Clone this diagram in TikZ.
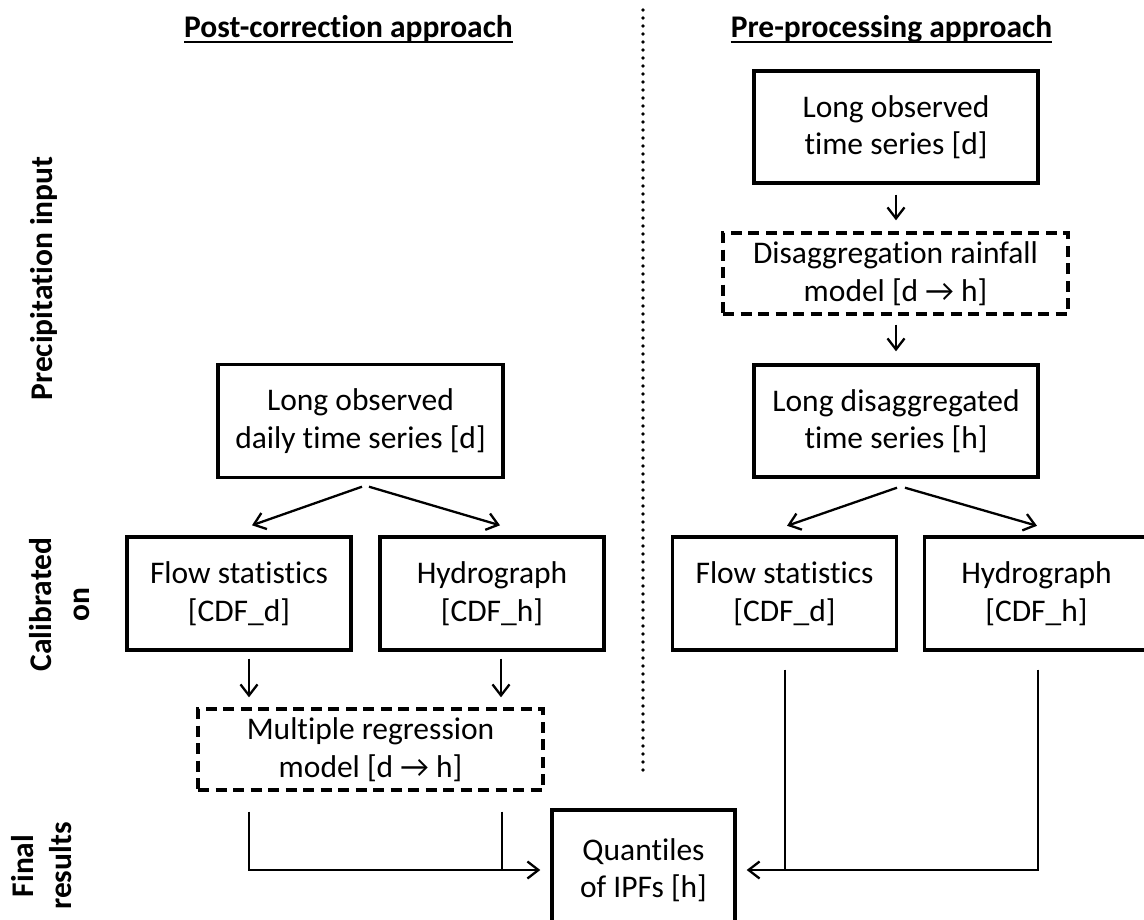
\documentclass[tikz,border=0pt]{standalone}
\usepackage{fontspec}
\setmainfont{Carlito}[Ligatures=NoCommon]
\usetikzlibrary{arrows.meta,calc}

\newcommand\boxfont{\fontsize{31.5}{37.5}\selectfont}
\newcommand\labfont{\fontsize{31.5}{38}\selectfont\bfseries}

\begin{document}
\begin{tikzpicture}[x=1pt,y=-1pt,
  box/.style={draw, line width=3.4pt, align=center, font=\boxfont, inner sep=0pt,
              minimum width=224pt, minimum height=113pt},
  dbox/.style={box, dash pattern=on 11pt off 6.5pt, minimum width=345pt, minimum height=81pt},
  conn/.style={line width=2.3pt},
  arr/.style={conn, -{Straight Barb[length=11pt,width=17pt]}},
  title/.style={font=\labfont, inner sep=0pt, anchor=base},
  lab/.style={font=\labfont, align=center, inner sep=0pt, rotate=90},
  sep/.style={line width=3.8pt, line cap=round, dash pattern=on 0pt off 8pt}
]
\useasboundingbox (0,0) rectangle (1144,919);

% column headings
\node[title] (t1) at (348.5,37) {Post-correction approach};
\node[title] (t2) at (891.5,37) {Pre-processing approach};
\draw[line width=2.6pt] ($(t1.base west)+(0,5)$) -- ($(t1.base east)+(0,5)$);
\draw[line width=2.6pt] ($(t2.base west)+(0,5)$) -- ($(t2.base east)+(0,5)$);

% dotted separator between the two approaches
\draw[sep] (643,10) -- (643,773);

% row labels
\node[lab] (rowA) at (44,278.5) {Precipitation input};
\node[lab] (rowB) at (60,604.5) {Calibrated\\on};
\node[lab] (rowC) at (41.5,866) {Final\\results};

% post-correction approach
\node[box, minimum width=285pt] (tL) at (360.5,421) {Long observed\\daily time series [d]};
\node[box] (fsL) at (239,593.5) {Flow statistics\\{[CDF\_d]}};
\node[box] (hyL) at (492,593.5) {Hydrograph\\{[CDF\_h]}};
\node[dbox] (mrm) at (370.5,749.5) {Multiple regression\\model [d → h]};

% pre-processing approach
\node[box, minimum width=284pt, minimum height=112pt] (tR) at (896,127) {Long observed\\time series [d]};
\node[dbox] (disR) at (895.5,273.5) {Disaggregation rainfall\\model [d → h]};
\node[box, minimum width=284pt, minimum height=112pt] (ldR) at (896,421) {Long disaggregated\\time series [h]};
\node[box] (fsR) at (784.5,593.5) {Flow statistics\\{[CDF\_d]}};
\node[box] (hyR) at (1036.5,593.5) {Hydrograph\\{[CDF\_h]}};

% final results
\node[box, minimum width=183pt, minimum height=120pt] (q) at (643.5,870) {Quantiles\\of IPFs [h]};

% connectors, post-correction side
\draw[arr] ($(tL.south)+(1.5,7.5)$) -- ($(fsL.north)+(13,-10)$);
\draw[arr] ($(tL.south)+(8.5,7.5)$) -- ($(hyL.north)+(8,-10)$);
\draw[arr] ($(fsL.south)+(10,7)$) -- ($(fsL.south |- mrm.north)+(10,-10)$);
\draw[arr] ($(hyL.south)+(9,7)$) -- ($(hyL.south |- mrm.north)+(9,-10)$);
\coordinate (jL) at ($(fsL.south |- mrm.south)+(10,20)$);
\coordinate (jL2) at ($(hyL.south |- mrm.south)+(10,20)$);
\draw[arr] (jL) |- ($(q.west)+(-10,0)$);
\draw[conn] (jL2) -- (jL2 |- q.west);

% connectors, pre-processing side
\draw[arr] ($(tR.south)+(0,10)$) -- ($(tR.south |- disR.north)+(0,-11)$);
\draw[arr] ($(ldR.north |- disR.south)+(0,9)$) -- ($(ldR.north)+(0,-12)$);
\draw[arr] ($(ldR.south)+(1,9)$) -- ($(fsR.north)+(2.5,-9.5)$);
\draw[arr] ($(ldR.south)+(9,9)$) -- ($(hyR.north)+(0.5,-9.5)$);
\coordinate (jR) at ($(hyR.south)+(1.5,18)$);
\coordinate (jR2) at ($(fsR.south)+(0.5,18)$);
\draw[arr] (jR) |- ($(q.east)+(10,0)$);
\draw[conn] (jR2) -- (jR2 |- q.east);
\end{tikzpicture}
\end{document}
